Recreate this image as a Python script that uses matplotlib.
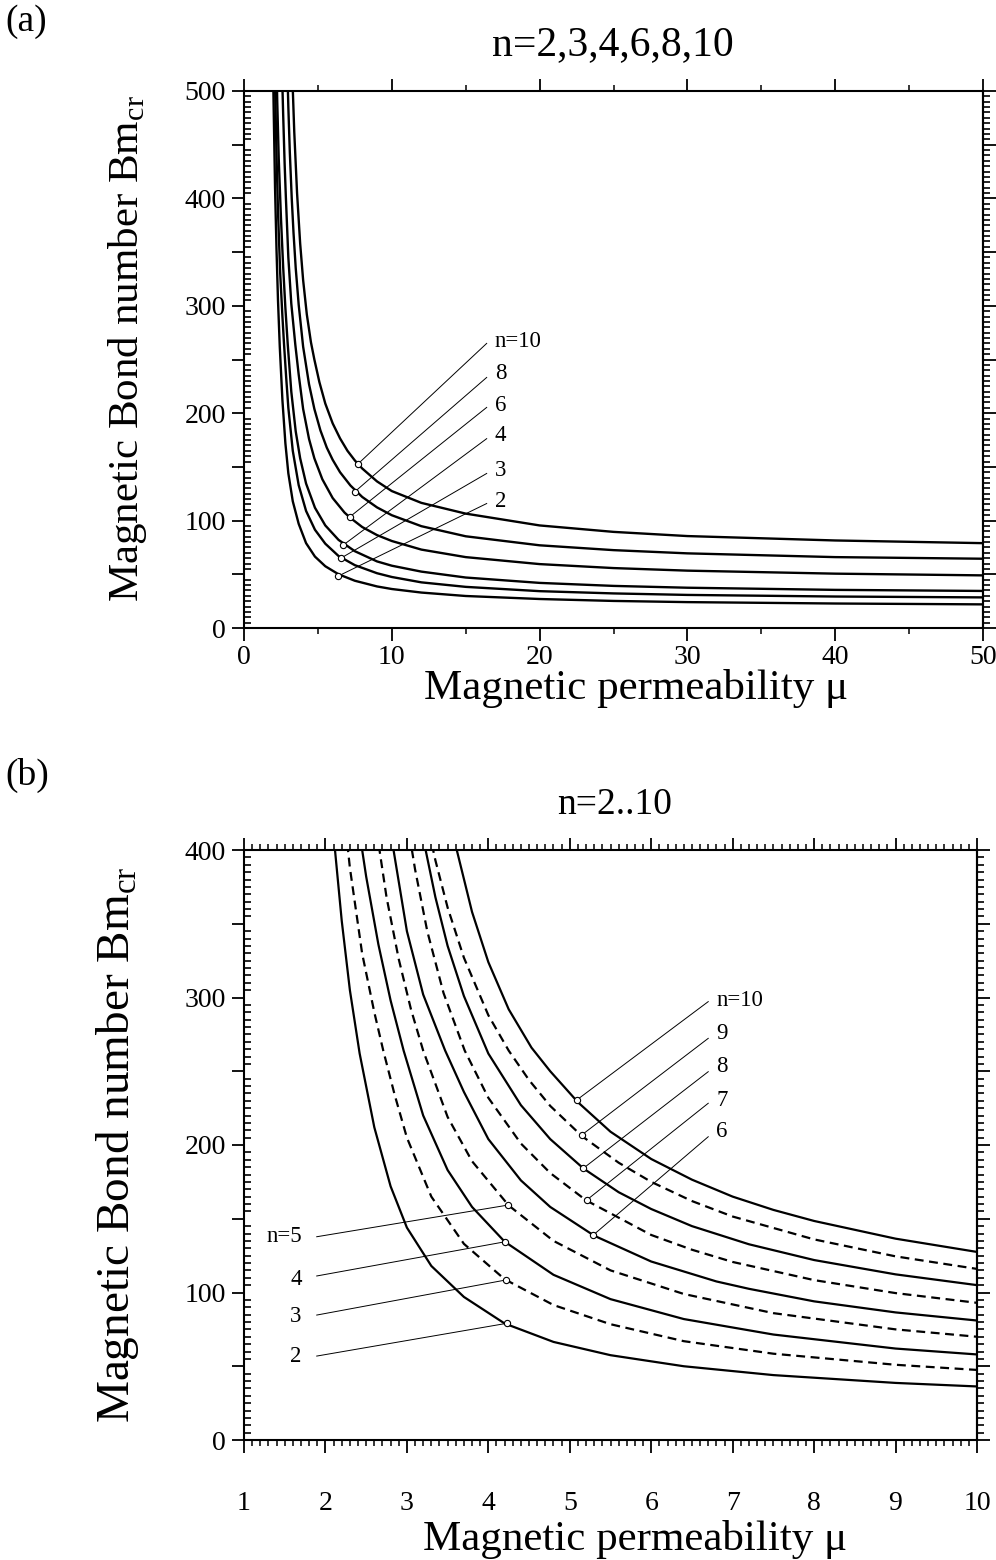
import matplotlib.pyplot as plt
from matplotlib.ticker import MultipleLocator, FuncFormatter

plt.rcParams['font.family'] = ['Liberation Serif', 'DejaVu Serif']
plt.rcParams['mathtext.fontset'] = 'custom'
plt.rcParams['mathtext.rm'] = 'Liberation Serif'

# curves Bm_cr(mu)
mu_n2 = [1.9, 2.0, 2.1, 2.2, 2.3, 2.42, 2.6, 2.8, 3.0, 3.3, 3.7, 4.2, 4.8, 5.5, 6.4, 7.5, 9, 10, 12, 15, 20, 25, 30, 40, 50]
bm_n2 = [580, 490, 410, 352, 305, 262, 212, 172, 144, 118, 97, 79, 66.5, 57.5, 50, 44, 38.7, 36.3, 33, 29.8, 27, 25.2, 24.1, 22.8, 22]

mu_n3 = [2.0, 2.1, 2.2, 2.3, 2.45, 2.6, 2.71, 2.85, 3.0, 3.3, 3.7, 4.2, 4.8, 5.5, 6.4, 7.5, 9, 10, 12, 15, 20, 25, 30, 40, 50]
bm_n3 = [590, 505, 440, 388, 330, 290, 264, 234, 205, 165, 133, 109, 91.5, 78.5, 67, 58.5, 51, 47.5, 42.5, 38.3, 34.3, 32.2, 30.8, 29.3, 28.5]

mu_n4 = [2.15, 2.25, 2.35, 2.5, 2.65, 2.8, 2.96, 3.2, 3.5, 3.8, 4.2, 4.8, 5.5, 6.4, 7.5, 9, 10, 12, 15, 20, 25, 30, 40, 50]
bm_n4 = [560, 490, 437, 382, 336, 298, 264, 220, 183, 158, 134.5, 112, 95.5, 82, 71.5, 62, 58, 52.5, 47, 42, 39.2, 37.5, 35.5, 34.5]

mu_n5 = [2.45, 2.55, 2.65, 2.75, 2.9, 3.05, 3.2, 3.5, 3.8, 4.25, 4.8, 5.5, 6.4, 7.5, 9, 10, 10.5]
bm_n5 = [540, 460, 405, 368, 326, 292, 264, 219, 189, 159, 135, 115, 99, 86, 75, 70, 68]

mu_n6 = [2.55, 2.65, 2.75, 2.83, 3.0, 3.2, 3.47, 3.7, 4.0, 4.4, 4.76, 5.3, 6.0, 6.8, 7.2, 8, 9, 10, 12, 15, 20, 25, 30, 40, 50]
bm_n6 = [530, 478, 432, 402, 345, 302, 264, 236, 204, 176, 158, 138.5, 121, 107.5, 102.5, 94, 86.5, 81, 73, 66, 59.5, 55.8, 53.4, 50.6, 49]

mu_n7 = [2.8, 2.9, 3.0, 3.1, 3.25, 3.45, 3.71, 4.0, 4.4, 4.76, 5.2, 6.0, 6.5, 7.0, 8, 9, 10, 10.5]
bm_n7 = [517, 464, 421, 387, 345, 303, 264, 232, 201, 181, 162.5, 139, 129, 120.7, 108.4, 99.6, 93, 90.3]

mu_n8 = [2.9, 3.0, 3.1, 3.23, 3.35, 3.5, 3.7, 4.0, 4.4, 4.76, 5.17, 5.6, 6.0, 6.5, 7.2, 8, 9, 10, 12, 15, 20, 25, 30, 40, 50]
bm_n8 = [537, 485, 443, 400, 368, 335, 301, 262, 227, 204, 184, 168, 156.6, 145, 132.7, 122, 112.3, 105, 94.8, 85.4, 77, 72.5, 69.5, 66, 64.5]

mu_n9 = [3.05, 3.15, 3.25, 3.35, 3.5, 3.7, 4.0, 4.25, 4.5, 4.76, 5.15, 5.6, 6.0, 6.5, 7.0, 8, 9, 10, 10.5]
bm_n9 = [481, 447, 418, 393, 361, 327, 288, 264, 244, 226.5, 206, 188, 175, 162, 151.5, 136, 124.5, 116, 112.5]

mu_n10 = [3.3, 3.4, 3.59, 3.8, 4.0, 4.25, 4.53, 4.76, 5.1, 5.5, 6, 6.5, 7, 7.5, 8, 9, 10, 12, 15, 20, 25, 30, 40, 50]
bm_n10 = [502, 462, 405, 358, 324, 292, 266, 250, 229, 209, 190.5, 176.5, 165, 156, 148.5, 136.5, 127.5, 116.5, 106.5, 95.5, 89.5, 85.6, 81.5, 79]

# panel (a) labels
a_labels = ['n=10', '8', '6', '4', '3', '2']
a_mark_mu = [7.73, 7.51, 7.17, 6.72, 6.54, 6.38]
a_mark_bm = [153, 127, 103.6, 77.3, 64.9, 48.4]
a_end_mu = 16.42
a_end_bm = [265, 233.3, 205.4, 176.3, 143.9, 115.9]
a_text_mu = 16.98
a_text_bm = [266.3, 237.4, 207.6, 179.7, 147.1, 117.6]

# panel (b) labels, right group
br_labels = ['n=10', '9', '8', '7', '6']
br_mark_mu = [5.085, 5.147, 5.166, 5.208, 5.289]
br_mark_bm = [230.5, 206.8, 184.2, 162.7, 139]
br_end_mu = 6.70
br_end_bm = [297.2, 272.3, 249.7, 228.3, 205.6]
br_text_mu = 6.80
br_text_bm = [298.3, 275.7, 253.1, 230.5, 209]

# panel (b) labels, left group
bl_labels = ['n=5', '4', '3', '2']
bl_mark_mu = [4.245, 4.205, 4.217, 4.226]
bl_mark_bm = [159.3, 134.4, 108.5, 79.1]
bl_end_mu = 1.893
bl_end_bm = [137.8, 111.2, 84.7, 56.9]
bl_text_mu = 1.708
bl_text_bm = [137.8, 108.5, 83.6, 56.5]

curves = {2: (mu_n2, bm_n2), 3: (mu_n3, bm_n3), 4: (mu_n4, bm_n4), 5: (mu_n5, bm_n5),
          6: (mu_n6, bm_n6), 7: (mu_n7, bm_n7), 8: (mu_n8, bm_n8), 9: (mu_n9, bm_n9),
          10: (mu_n10, bm_n10)}

W, H = 996, 1560
fig = plt.figure(figsize=(W / 100, H / 100), dpi=100)
ax1 = fig.add_axes([244 / W, 1 - 628 / H, 739 / W, 537 / H])
ax2 = fig.add_axes([244 / W, 1 - 1440 / H, 733 / W, 590 / H])

ylab = FuncFormatter(lambda v, p: f'{int(round(v))}' if round(v) % 100 == 0 else '')


def style(ax, xlim, ylim, xmaj, xmin, xpad, ylsize):
    ax.set_xlim(*xlim)
    ax.set_ylim(*ylim)
    for s in ax.spines.values():
        s.set_linewidth(1.5)
    ax.xaxis.set_major_locator(MultipleLocator(xmaj))
    ax.xaxis.set_minor_locator(MultipleLocator(xmin))
    ax.yaxis.set_major_locator(MultipleLocator(50))
    ax.yaxis.set_minor_locator(MultipleLocator(5))
    ax.yaxis.set_major_formatter(ylab)
    ax.tick_params(axis='x', which='both', direction='out', top=True, bottom=True)
    ax.tick_params(axis='x', which='major', length=9, width=1.3, labelsize=20, pad=xpad)
    ax.tick_params(axis='x', which='minor', length=4, width=1.1)
    ax.tick_params(axis='y', which='both', left=True, right=False)
    ax.tick_params(axis='y', which='major', direction='out', length=9, width=1.3, labelsize=20, pad=4)
    ax.tick_params(axis='y', which='minor', direction='in', length=5, width=1.2)
    sec = ax.secondary_yaxis('right')
    sec.spines['right'].set_linewidth(1.5)
    sec.yaxis.set_major_locator(MultipleLocator(50))
    sec.yaxis.set_minor_locator(MultipleLocator(5))
    sec.tick_params(which='major', direction='out', length=9, width=1.3, labelright=False)
    sec.tick_params(which='minor', direction='out', length=5, width=1.2)
    ax.set_xlabel('Magnetic permeability μ', fontsize=31)
    ax.set_ylabel('Magnetic Bond number Bm$_{\\rm cr}$', fontsize=ylsize)
    ax.xaxis.label.set_va('center')
    ax.yaxis.label.set_va('center')


# ---- panel (a)
for n in [2, 3, 4, 6, 8, 10]:
    ax1.plot(*curves[n], color='black', lw=1.7)
for i, lab in enumerate(a_labels):
    ax1.plot([a_mark_mu[i], a_end_mu], [a_mark_bm[i], a_end_bm[i]], color='black', lw=0.7)
    ax1.text(a_text_mu, a_text_bm[i], lab, fontsize=16.5, va='center', ha='left')
ax1.plot(a_mark_mu, a_mark_bm, 'o', mfc='white', mec='black', ms=4.5, mew=0.8, zorder=4)
style(ax1, (0, 50), (0, 500), 10, 5, 3, 31)
ax1.xaxis.set_label_coords(0.53, -0.112)
ax1.yaxis.set_label_coords(-0.157, 0.52)

# ---- panel (b)
for n in range(2, 11):
    ls = (0, (4, 2.5)) if n % 2 else '-'
    ax2.plot(*curves[n], color='black', lw=1.6, ls=ls)
for i, lab in enumerate(br_labels):
    ax2.plot([br_mark_mu[i], br_end_mu], [br_mark_bm[i], br_end_bm[i]], color='black', lw=0.7)
    ax2.text(br_text_mu, br_text_bm[i], lab, fontsize=16.5, va='center', ha='left')
for i, lab in enumerate(bl_labels):
    ax2.plot([bl_mark_mu[i], bl_end_mu], [bl_mark_bm[i], bl_end_bm[i]], color='black', lw=0.7)
    ax2.text(bl_text_mu, bl_text_bm[i], lab, fontsize=16.5, va='center', ha='right')
ax2.plot(br_mark_mu + bl_mark_mu, br_mark_bm + bl_mark_bm, 'o', mfc='white', mec='black',
         ms=4.5, mew=0.8, zorder=4)
style(ax2, (1, 10), (0, 400), 1, 0.1, 28, 34)
ax2.xaxis.set_label_coords(0.533, -0.169)
ax2.yaxis.set_label_coords(-0.172, 0.5)

fig.text(613 / W, 1 - 45 / H, 'n=2,3,4,6,8,10', fontsize=30, ha='center', va='center')
fig.text(615 / W, 1 - 805 / H, 'n=2..10', fontsize=27, ha='center', va='center')
fig.text(5 / W, 1 - 22 / H, '(a)', fontsize=27, ha='left', va='center')
fig.text(5 / W, 1 - 775 / H, '(b)', fontsize=27, ha='left', va='center')

fig.savefig('out.png', dpi=100)
